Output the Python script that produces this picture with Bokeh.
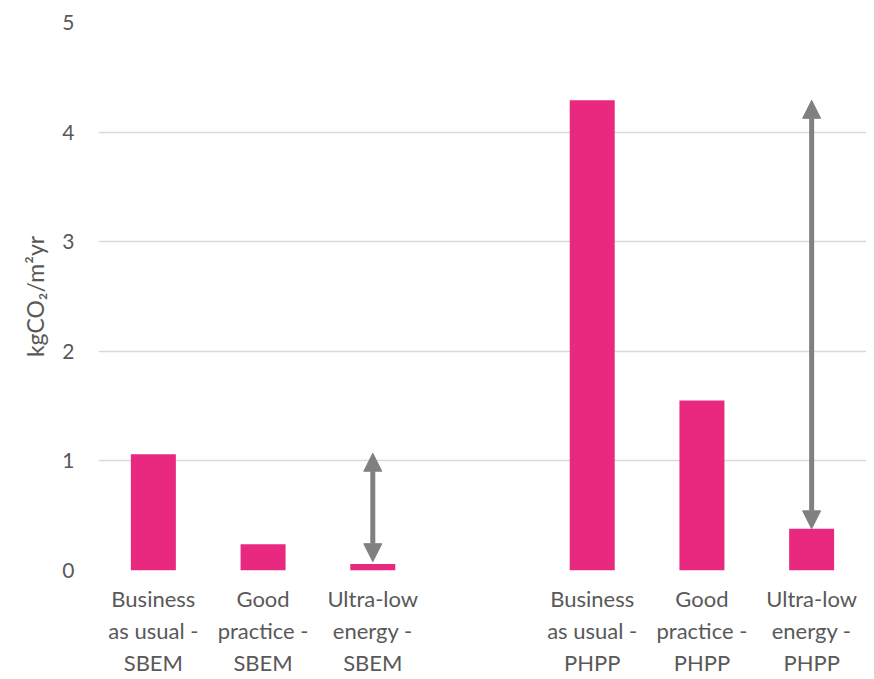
from bokeh.plotting import figure
from bokeh.models import ColumnDataSource, Range1d, FactorRange, Arrow, NormalHead
from bokeh.embed import file_html
from bokeh.resources import INLINE

categories = ["Business\nas usual -\nSBEM", "Good\npractice -\nSBEM", "Ultra-low\nenergy -\nSBEM", " ",
              "Business\nas usual -\nPHPP", "Good\npractice -\nPHPP", "Ultra-low\nenergy -\nPHPP"]
bar_categories = [c for c in categories if c.strip()]
values = [1.06, 0.24, 0.06, 4.29, 1.55, 0.38]
arrow_x = ["Ultra-low\nenergy -\nSBEM", "Ultra-low\nenergy -\nPHPP"]
arrow_from = [0.08, 0.38]
arrow_to = [1.07, 4.29]
y_ticks = [0, 1, 2, 3, 4, 5]

FONT = "Lato"
GREY = "#595959"

p = figure(x_range=FactorRange(*categories, range_padding=0), y_range=Range1d(0, 5),
           width=866, height=679, output_backend="svg", toolbar_location=None,
           min_border_left=98, min_border_top=22, min_border_right=0, min_border_bottom=4)
p.outline_line_color = None

src = ColumnDataSource(dict(x=bar_categories, top=values))
p.vbar(x="x", top="top", width=0.41, source=src, fill_color="#E8297F", line_color=None)

asrc = ColumnDataSource(dict(x=arrow_x, y0=arrow_from, y1=arrow_to))
head = dict(size=18, fill_color="#808080", line_color="#808080")
p.add_layout(Arrow(x_start="x", y_start="y0", x_end="x", y_end="y1", source=asrc,
                   line_color="#808080", line_width=5,
                   start=NormalHead(**head), end=NormalHead(**head)))

p.xgrid.grid_line_color = None
p.ygrid.grid_line_color = "#d9d9d9"
p.ygrid.grid_line_width = 1.5
p.yaxis.ticker = y_ticks

for ax in (p.xaxis[0], p.yaxis[0]):
    ax.axis_line_color = None
    ax.major_tick_line_color = None
    ax.minor_tick_line_color = None
    ax.major_label_text_font = FONT
    ax.major_label_text_color = GREY

p.xaxis.major_label_text_font_size = "22px"
p.xaxis.major_label_text_line_height = 1.2
p.yaxis.major_label_text_font_size = "21px"
p.xaxis.major_label_standoff = 8
p.yaxis.major_label_standoff = 18
p.yaxis.axis_label = "kgCO₂/m²yr"
p.yaxis.axis_label_text_font = FONT
p.yaxis.axis_label_text_font_style = "normal"
p.yaxis.axis_label_text_font_size = "23px"
p.yaxis.axis_label_text_color = GREY
p.yaxis.axis_label_standoff = 10

open("out.html", "w").write(file_html(p, INLINE))
